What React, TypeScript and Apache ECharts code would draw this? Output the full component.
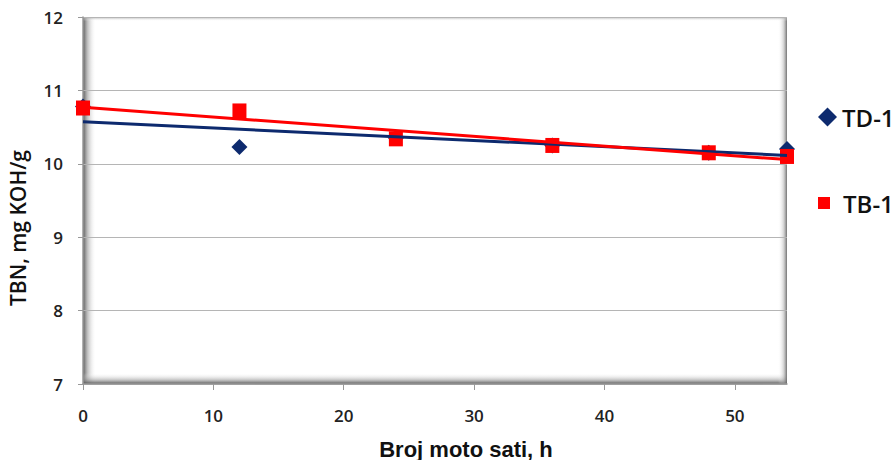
import React, { useEffect, useRef } from "react";
import * as echarts from "echarts";

const hours = [0, 12, 24, 36, 48, 54];
const td1 = [10.78, 10.23, 10.35, 10.25, 10.15, 10.2];
const tb1 = [10.76, 10.72, 10.34, 10.25, 10.15, 10.1];
const xTicks = [0, 10, 20, 30, 40, 50];
const seriesNames = ["TD-1", "TB-1"];
const yTitle = "TBN, mg KOH/g";
const xTitle = "Broj moto sati, h";

function trend(xs: number[], ys: number[]) {
  const n = xs.length;
  const mx = xs.reduce((a, b) => a + b, 0) / n;
  const my = ys.reduce((a, b) => a + b, 0) / n;
  let sxy = 0, sxx = 0;
  for (let i = 0; i < n; i++) {
    sxy += (xs[i] - mx) * (ys[i] - my);
    sxx += (xs[i] - mx) * (xs[i] - mx);
  }
  const b = sxy / sxx;
  const a = my - b * mx;
  const x0 = xs[0], x1 = xs[n - 1];
  return [[x0, a + b * x0], [x1, a + b * x1]];
}

const G = { left: 83, top: 17, right: 109, bottom: 76 };
const W = 896, H = 460;

export default function App() {
  const ref = useRef<HTMLDivElement>(null);
  useEffect(() => {
    const chart = echarts.init(ref.current!, null, { renderer: "svg" });
    const pw = W - G.left - G.right;
    const ph = H - G.top - G.bottom;
    const navy = "#0d2a6e";
    const red = "#ff0000";
    const legendText = { fontFamily: "Open Sans", fontWeight: 600, fontSize: 24, color: "#111" };
    chart.setOption({
      animation: false,
      backgroundColor: "#ffffff",
      grid: { left: G.left, top: G.top, right: G.right, bottom: G.bottom, show: true, backgroundColor: "#ffffff", borderWidth: 0 },
      graphic: [
        {
          type: "rect", z: 0, silent: true,
          shape: { x: G.left, y: G.top, width: 13, height: ph },
          style: { fill: new echarts.graphic.LinearGradient(0, 0, 1, 0, [{ offset: 0, color: "rgba(80,80,80,0.95)" }, { offset: 0.35, color: "rgba(140,140,140,0.55)" }, { offset: 1, color: "rgba(255,255,255,0)" }]) },
        },
        {
          type: "rect", z: 0, silent: true,
          shape: { x: G.left, y: G.top + ph - 11, width: pw, height: 11 },
          style: { fill: new echarts.graphic.LinearGradient(0, 1, 0, 0, [{ offset: 0, color: "rgba(80,80,80,0.95)" }, { offset: 0.4, color: "rgba(150,150,150,0.5)" }, { offset: 1, color: "rgba(255,255,255,0)" }]) },
        },
        {
          type: "rect", z: 0, silent: true,
          shape: { x: G.left + pw - 9, y: G.top, width: 9, height: ph },
          style: { fill: new echarts.graphic.LinearGradient(1, 0, 0, 0, [{ offset: 0, color: "rgba(100,100,100,0.9)" }, { offset: 0.4, color: "rgba(170,170,170,0.45)" }, { offset: 1, color: "rgba(255,255,255,0)" }]) },
        },
        {
          type: "rect", z: 0, silent: true,
          shape: { x: G.left, y: G.top, width: pw, height: 4 },
          style: { fill: new echarts.graphic.LinearGradient(0, 0, 0, 1, [{ offset: 0, color: "rgba(150,150,150,0.8)" }, { offset: 1, color: "rgba(255,255,255,0)" }]) },
        },
        {
          type: "text", z: 10,
          x: 18, y: 228, rotation: Math.PI / 2,
          style: { text: yTitle, fontFamily: "Open Sans", fontWeight: 600, fontSize: 21, fill: "#111", align: "center", verticalAlign: "middle" },
        },
        {
          type: "text", z: 10,
          x: 466, y: 449,
          style: { text: xTitle, fontFamily: "Liberation Sans", fontWeight: "bold", fontSize: 22, fill: "#111", align: "center", verticalAlign: "middle" },
        },
      ],
      legend: [
        {
          orient: "vertical", left: 813, top: 100,
          itemWidth: 19, itemHeight: 19,
          data: [{ name: seriesNames[0], icon: "diamond" }],
          textStyle: { ...legendText, padding: [0, 0, 0, 0] },
        },
        {
          orient: "vertical", left: 813, top: 186,
          itemWidth: 12, itemHeight: 12,
          data: [{ name: seriesNames[1], icon: "rect" }],
          textStyle: { ...legendText, padding: [0, 0, 0, 8] },
        },
      ],
      xAxis: {
        type: "value",
        min: 0,
        max: 54,
        interval: 10,
        axisLine: { show: true, lineStyle: { color: "#999", width: 1.5 } },
        axisTick: { show: true, customValues: xTicks, length: 6, lineStyle: { color: "#999" } },
        axisLabel: { customValues: xTicks, margin: 23, fontFamily: "Open Sans", fontWeight: 600, fontSize: 17, color: "#222" },
        splitLine: { show: false },
      },
      yAxis: {
        type: "value",
        min: 7,
        max: 12,
        interval: 1,
        axisLine: { show: true, lineStyle: { color: "#999", width: 1.5 } },
        axisTick: { show: true, length: 5, lineStyle: { color: "#999" } },
        axisLabel: { margin: 20, fontFamily: "Open Sans", fontWeight: 600, fontSize: 17, color: "#222" },
        splitLine: { show: true, lineStyle: { color: "#b5b5b5", width: 1.2 } },
      },
      series: [
        {
          name: seriesNames[0], type: "scatter", symbol: "diamond", symbolSize: 16, z: 3,
          itemStyle: { color: navy, opacity: 1 },
          data: hours.map((h, i) => [h, td1[i]]),
        },
        {
          name: seriesNames[1], type: "scatter", symbol: "rect", symbolSize: [14, 15], z: 4,
          itemStyle: { color: red, opacity: 1 },
          data: hours.map((h, i) => [h, tb1[i]]),
        },
        {
          name: "TD-1 trend", type: "line", showSymbol: false, symbol: "none", z: 5,
          lineStyle: { color: navy, width: 3 },
          data: trend(hours, td1),
        },
        {
          name: "TB-1 trend", type: "line", showSymbol: false, symbol: "none", z: 6,
          lineStyle: { color: red, width: 3 },
          data: trend(hours, tb1),
        },
      ],
    });
    return () => chart.dispose();
  }, []);
  return <div ref={ref} style={{ width: W, height: H, position: "absolute", left: 0, top: 0 }} />;
}
